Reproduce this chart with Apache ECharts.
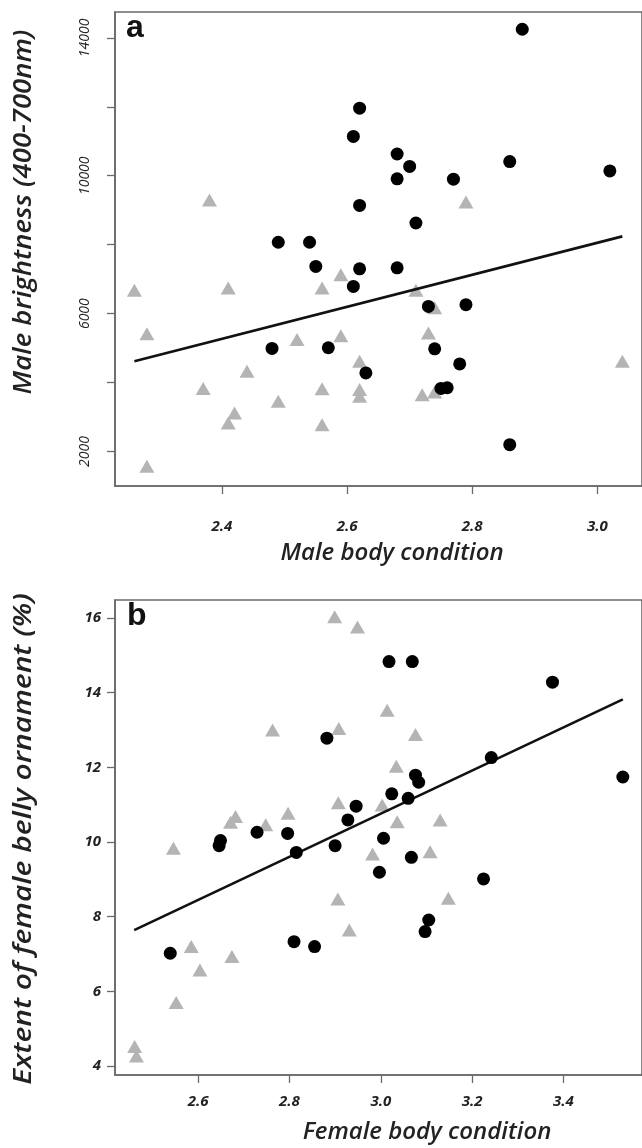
<!DOCTYPE html>
<html><head><meta charset="utf-8">
<script src="https://cdn.jsdelivr.net/npm/echarts@6/dist/echarts.min.js"></script>
<style>html,body{margin:0;padding:0;background:#fff}#c{width:642px;height:1148px}</style>
</head><body><div id="c"></div>
<script>
// Panel a: male body condition vs male brightness
const maleCircles = [
  [2.62,11960],[2.61,11140],[2.62,9140],[2.49,8070],[2.54,8070],[2.55,7370],[2.62,7300],
  [2.88,14250],[2.68,10630],[2.70,10270],[2.68,9910],[2.77,9900],[2.86,10410],[3.02,10140],
  [2.71,8630],[2.68,7330],[2.61,6790],[2.48,4990],[2.57,5010],[2.63,4280],[2.73,6210],
  [2.79,6260],[2.74,4980],[2.78,4540],[2.75,3830],[2.76,3850],[2.86,2200]
];
const maleTriangles = [
  [2.26,6680],[2.41,6745],[2.59,7130],[2.56,6745],[2.28,5420],[2.52,5250],[2.59,5360],
  [2.62,4620],[2.44,4330],[2.37,3830],[2.56,3820],[2.62,3800],[2.62,3600],[2.49,3460],
  [2.42,3120],[2.41,2830],[2.56,2780],[2.28,1570],[2.38,9300],[2.79,9240],[2.71,6680],
  [2.74,6170],[2.73,5440],[2.74,3730],[2.72,3650],[3.04,4620]
];
const maleLine = [[2.26,4617],[3.04,8241]];
const maleYTicks = [2000,4000,6000,8000,10000,12000,14000];
const maleYLabels = [2000,6000,10000,14000];
const maleXTicks = [2.4,2.6,2.8,3.0];

// Panel b: female body condition vs belly ornament
const femaleCircles = [
  [2.882,12.78],[2.946,10.96],[2.928,10.59],[2.729,10.26],[2.796,10.23],[2.649,10.04],[2.646,9.90],
  [2.90,9.90],[2.815,9.72],[3.018,14.83],[3.069,14.83],[3.376,14.28],[3.242,12.26],[3.076,11.79],
  [3.083,11.60],[3.53,11.74],[3.024,11.29],[3.06,11.17],[3.006,10.10],[2.81,7.33],[2.855,7.20],
  [2.539,7.02],[3.067,9.59],[2.997,9.19],[3.225,9.01],[3.105,7.91],[3.097,7.60]
];
const femaleTriangles = [
  [2.899,16.03],[2.949,15.76],[2.763,13.0],[2.908,13.04],[2.907,11.05],[2.682,10.68],[2.671,10.53],
  [2.797,10.77],[2.748,10.46],[2.546,9.83],[3.014,13.53],[3.076,12.88],[3.034,12.03],[3.003,10.99],
  [3.036,10.54],[3.13,10.59],[2.906,8.47],[2.931,7.64],[2.585,7.20],[2.674,6.93],[2.604,6.57],
  [2.552,5.70],[2.461,4.52],[2.465,4.27],[2.982,9.68],[3.108,9.74],[3.148,8.49]
];
const femaleLine = [[2.46,7.64],[3.53,13.82]];
const femaleYTicks = [4,6,8,10,12,14,16];
const femaleXTicks = [2.6,2.8,3.0,3.2,3.4];

const AX = '#6a6a6a';
const FONT = 'Open Sans';

function xAxisCfg(gi, min, max, ticks, margin) {
  return {
    gridIndex: gi, type: 'value', min: min, max: max,
    axisLine: {show: true, lineStyle: {color: AX, width: 1.6}},
    axisTick: {show: true, customValues: ticks, length: 8, lineStyle: {color: AX, width: 1.3}},
    axisLabel: {customValues: ticks, margin: margin, color: '#222', fontFamily: FONT,
      fontStyle: 'italic', fontWeight: 'bold', fontSize: 15,
      formatter: v => v.toFixed(1)},
    splitLine: {show: false}
  };
}

const titleStyle = (text, size) => ({text: text, font: 'italic 600 ' + size + 'px "Open Sans"', fill: '#222',
  align: 'center', verticalAlign: 'middle', textAlign: 'center', textVerticalAlign: 'middle'});

const option = {
  animation: false,
  backgroundColor: '#fff',
  grid: [
    {left: 115, top: 12, width: 532, height: 474, show: true, borderColor: AX, borderWidth: 1.6},
    {left: 115, top: 600, width: 532, height: 475, show: true, borderColor: AX, borderWidth: 1.6}
  ],
  xAxis: [
    xAxisCfg(0, 2.229, 3.0714, maleXTicks, 33),
    xAxisCfg(1, 2.418, 3.572, femaleXTicks, 19)
  ],
  yAxis: [
    {gridIndex: 0, type: 'value', min: 1000, max: 14750,
      axisLine: {show: true, lineStyle: {color: AX, width: 1.6}},
      axisTick: {show: true, customValues: maleYTicks, length: 8, lineStyle: {color: AX, width: 1.3}},
      axisLabel: {customValues: maleYLabels, rotate: 90, margin: 23, color: '#222',
        fontFamily: FONT, fontStyle: 'italic', fontSize: 14, formatter: v => String(v)},
      splitLine: {show: false}},
    {gridIndex: 1, type: 'value', min: 3.76, max: 16.48,
      axisLine: {show: true, lineStyle: {color: AX, width: 1.6}},
      axisTick: {show: true, customValues: femaleYTicks, length: 8, lineStyle: {color: AX, width: 1.3}},
      axisLabel: {customValues: femaleYTicks, margin: 14, color: '#222',
        fontFamily: FONT, fontStyle: 'italic', fontWeight: 'bold', fontSize: 15},
      splitLine: {show: false}}
  ],
  series: [
    {type: 'scatter', xAxisIndex: 0, yAxisIndex: 0, data: maleTriangles, symbol: 'triangle',
      symbolSize: [15, 13], itemStyle: {color: '#b4b4b4', opacity: 1}, z: 2},
    {type: 'line', xAxisIndex: 0, yAxisIndex: 0, data: maleLine, symbol: 'none',
      lineStyle: {color: '#111', width: 2.6}, z: 3},
    {type: 'scatter', xAxisIndex: 0, yAxisIndex: 0, data: maleCircles, symbol: 'circle',
      symbolSize: 13, itemStyle: {color: '#000', opacity: 1}, z: 4},
    {type: 'scatter', xAxisIndex: 1, yAxisIndex: 1, data: femaleTriangles, symbol: 'triangle',
      symbolSize: [15, 13], itemStyle: {color: '#b4b4b4', opacity: 1}, z: 2},
    {type: 'line', xAxisIndex: 1, yAxisIndex: 1, data: femaleLine, symbol: 'none',
      lineStyle: {color: '#111', width: 2.6}, z: 3},
    {type: 'scatter', xAxisIndex: 1, yAxisIndex: 1, data: femaleCircles, symbol: 'circle',
      symbolSize: 13, itemStyle: {color: '#000', opacity: 1}, z: 4}
  ],
  graphic: [
    {type: 'text', left: 126, top: 12, style: {text: 'a', font: 'bold 32px "Liberation Sans"', fill: '#111'}},
    {type: 'text', left: 127, top: 600, style: {text: 'b', font: 'bold 32px "Liberation Sans"', fill: '#111'}},
    {type: 'text', x: 24, y: 212, rotation: Math.PI / 2, scaleX: 1.1,
      style: titleStyle('Male brightness (400-700nm)', 25)},
    {type: 'text', x: 24, y: 839, rotation: Math.PI / 2, scaleX: 1.2,
      style: titleStyle('Extent of female belly ornament (%)', 25)},
    {type: 'text', x: 392, y: 553, style: titleStyle('Male body condition', 24)},
    {type: 'text', x: 427, y: 1132, style: titleStyle('Female body condition', 24)}
  ]
};
const chart = echarts.init(document.getElementById('c'), null, {renderer: 'canvas'});
chart.setOption(option);
</script>
</body></html>
